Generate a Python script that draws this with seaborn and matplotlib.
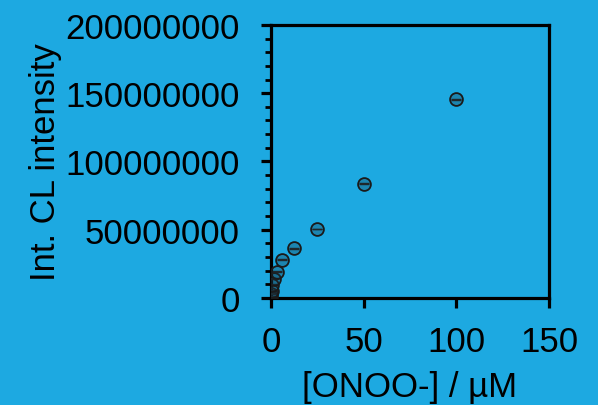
import numpy as np
import pandas as pd
import seaborn as sns
import matplotlib.pyplot as plt
from matplotlib.ticker import MultipleLocator

# ONOO- concentration (uM) vs integrated CL intensity
conc = [0, 0.195, 0.39, 0.78, 1.5625, 3.125, 6.25, 12.5, 25, 50, 100]
intensity = [0.8e6, 2.9e6, 5.3e6, 9.5e6, 13.9e6, 19.2e6, 28.0e6, 36.4e6, 50.5e6, 83.6e6, 145.4e6]
intensity_err = [0.3e6, 0.3e6, 0.3e6, 0.3e6, 0.3e6, 0.3e6, 0.3e6, 0.3e6, 0.3e6, 0.3e6, 0.3e6]

df = pd.DataFrame({"conc": conc, "cl": intensity, "err": intensity_err})

bg = "#1DA9E1"
sns.set_theme(style="ticks")
plt.rcParams["font.family"] = ["Liberation Sans", "DejaVu Sans"]

fig = plt.figure(figsize=(5.98, 4.06), dpi=100, facecolor=bg)
ax = fig.add_axes([0.453, 0.264, 0.465, 0.672])
ax.set_facecolor(bg)

ax.errorbar(df["conc"], df["cl"], yerr=df["err"], fmt="none",
            ecolor="#222222", elinewidth=1, capsize=3.5, capthick=1, zorder=3)
sns.scatterplot(data=df, x="conc", y="cl", ax=ax, s=85, marker="o",
                facecolor=(0.1, 0.2, 0.25, 0.3), edgecolor="#1a1a1a",
                linewidth=1.3, zorder=4, legend=False)

ax.set_xlim(0, 150)
ax.set_ylim(0, 200000000)
ax.xaxis.set_major_locator(MultipleLocator(50))
ax.yaxis.set_major_locator(MultipleLocator(50000000))
ax.yaxis.set_minor_locator(MultipleLocator(10000000))
ax.ticklabel_format(axis="y", style="plain", useOffset=False)

for s in ax.spines.values():
    s.set_linewidth(2.3)
    s.set_color("black")
ax.tick_params(axis="both", which="major", length=7.5, width=2.3,
               labelsize=25, colors="black", direction="out")
ax.tick_params(axis="y", which="major", pad=15)
ax.tick_params(axis="x", which="major", pad=12)
ax.tick_params(axis="y", which="minor", length=4.5, width=2.0, colors="black")

ax.set_xlabel("[ONOO-] / µM", fontsize=25, color="black", labelpad=9)
ax.set_ylabel("Int. CL intensity", fontsize=25, color="black", labelpad=2)
ax.grid(False)

fig.savefig("out.png", dpi=100, facecolor=bg)
